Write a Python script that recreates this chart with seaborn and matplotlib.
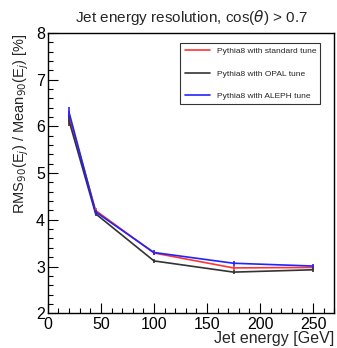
import pandas as pd
import matplotlib
matplotlib.use("Agg")
import matplotlib.pyplot as plt
import seaborn as sns
from matplotlib.ticker import MultipleLocator

# Data
energy = [20, 45, 100, 175, 250]
res_standard = [6.22, 4.20, 3.29, 2.97, 2.98]
res_opal = [6.12, 4.13, 3.12, 2.88, 2.93]
res_aleph = [6.30, 4.17, 3.30, 3.07, 3.01]
err_standard = [0.12, 0.05, 0.05, 0.05, 0.05]
err_opal = [0.12, 0.05, 0.05, 0.05, 0.05]
err_aleph = [0.12, 0.05, 0.05, 0.05, 0.05]
labels = ["Pythia8 with standard tune", "Pythia8 with OPAL tune", "Pythia8 with ALEPH tune"]
colors = ["#ff3333", "#333333", "#2222ff"]

rows = []
for lab, vals, errs in zip(labels, [res_standard, res_opal, res_aleph],
                           [err_standard, err_opal, err_aleph]):
    for e, v, s in zip(energy, vals, errs):
        rows.append({"Energy": e, "Res": v, "Err": s, "Tune": lab})
df = pd.DataFrame(rows)

sns.set_theme(style="white")
plt.rcParams["font.family"] = ["Liberation Sans", "DejaVu Sans"]

fig = plt.figure(figsize=(3.37, 3.48), dpi=100)
ax = fig.add_axes([0.142, 0.10, 0.85, 0.805])

sns.lineplot(data=df, x="Energy", y="Res", hue="Tune", palette=colors,
             hue_order=labels, linewidth=1.2, ax=ax, legend=True)
for lab, c in zip(labels, colors):
    sub = df[df["Tune"] == lab]
    ax.errorbar(sub["Energy"], sub["Res"], yerr=sub["Err"], fmt="none",
                ecolor=c, elinewidth=1.2, capsize=0)

ax.set_xlim(0, 270)
ax.set_ylim(2, 8)
ax.xaxis.set_major_locator(MultipleLocator(50))
ax.xaxis.set_minor_locator(MultipleLocator(10))
ax.yaxis.set_major_locator(MultipleLocator(1))
ax.yaxis.set_minor_locator(MultipleLocator(0.2))
ax.tick_params(which="both", direction="in", bottom=True, left=True,
               top=False, right=False, labelsize=11.5, colors="black")
ax.tick_params(axis="x", which="both", pad=3)
ax.tick_params(axis="y", which="both", pad=2)
ax.tick_params(which="major", length=7, width=0.8)
ax.tick_params(which="minor", length=3.5, width=0.8)
for sp in ax.spines.values():
    sp.set_color("black")
    sp.set_linewidth(1.0)

ax.set_title(r"Jet energy resolution, cos($\theta$) > 0.7", fontsize=11, pad=8)
ax.set_xlabel("Jet energy [GeV]", fontsize=11.5, loc="right", labelpad=-1)
ax.set_ylabel(r"RMS$_{90}$(E$_{j}$) / Mean$_{90}$(E$_{j}$) [%]", fontsize=10.5,
              loc="top", labelpad=4)

leg = ax.legend(loc="upper right", fontsize=6, frameon=True, fancybox=False,
                edgecolor="black", borderpad=0.5, labelspacing=1.75,
                handlelength=3.0, handletextpad=0.85, borderaxespad=0,
                bbox_to_anchor=(0.951, 0.964))
leg.get_frame().set_linewidth(0.8)

fig.savefig("out.png", dpi=100)
